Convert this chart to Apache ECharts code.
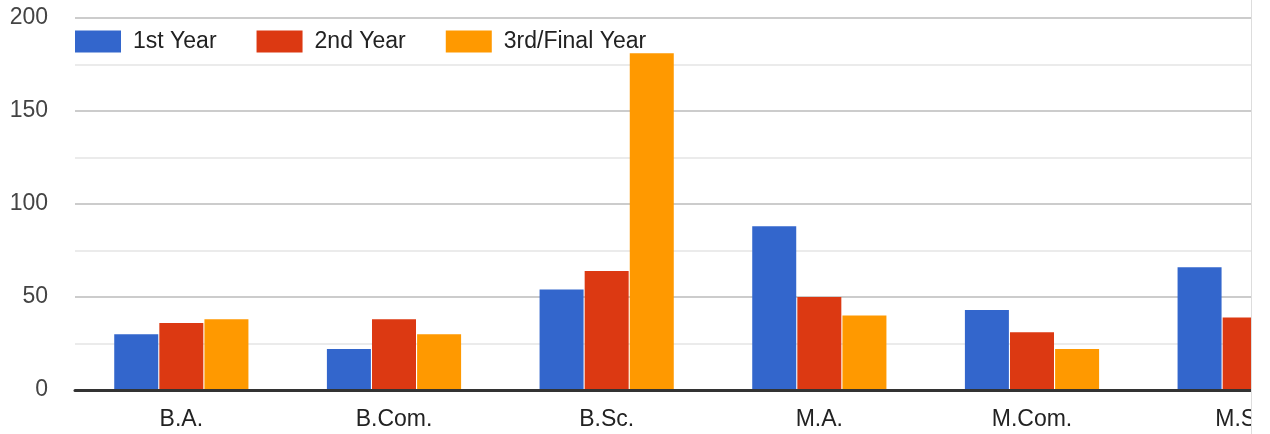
<!DOCTYPE html>
<html>
<head>
<meta charset="utf-8">
<script src="https://cdn.jsdelivr.net/npm/echarts@6/dist/echarts.min.js"></script>
<style>
  html, body { margin: 0; padding: 0; background: #fff; }
  .frame { width: 1251px; height: 434px; overflow: hidden; border-right: 1px solid #dddddd; }
  .chart { width: 1360px; height: 434px; }
</style>
</head>
<body>
<div class="frame"><div class="chart" id="main"></div></div>
<script>
const courses = ['B.A.', 'B.Com.', 'B.Sc.', 'M.A.', 'M.Com.', 'M.Sc.']
const firstYear = [30, 22, 54, 88, 43, 66]
const secondYear = [36, 38, 64, 50, 31, 39]
// last M.Sc. bar is cut off in the picture
const finalYear = [38, 30, 181, 40, 22, null]
const seriesNames = ['1st Year', '2nd Year', '3rd/Final Year']
const colors = ['#3366cc', '#dc3912', '#ff9900']

const myChart = echarts.init(document.getElementById('main'))

const bar = (name, data, color) => ({
  name: name,
  type: 'bar',
  data: data,
  barWidth: 44,
  barGap: '2.5%',
  itemStyle: { color: color },
})

const option = {
  animation: false,
  textStyle: { fontFamily: 'Liberation Sans, Arial, sans-serif' },
  legend: {
    left: 75,
    top: 30,
    padding: 0,
    icon: 'rect',
    itemWidth: 46,
    itemHeight: 22,
    itemGap: 40,
    textStyle: { fontSize: 23, color: '#222', padding: [0, 0, 0, 7] },
    data: seriesNames,
  },
  grid: { left: 75, top: 18, width: 1276, height: 372 },
  xAxis: {
    type: 'category',
    data: courses,
    z: 5,
    axisTick: { show: false },
    axisLine: { lineStyle: { color: '#333', width: 3 } },
    axisLabel: { fontSize: 23, color: '#222', margin: 18 },
  },
  yAxis: {
    type: 'value',
    min: 0,
    max: 200,
    interval: 50,
    axisLine: { show: false },
    axisTick: { show: false },
    axisLabel: { fontSize: 23, color: '#444', margin: 27 },
    splitLine: { lineStyle: { color: '#cccccc', width: 2 } },
    minorTick: { show: false, splitNumber: 2 },
    minorSplitLine: { show: true, lineStyle: { color: '#ebebeb', width: 2 } },
  },
  series: [
    bar(seriesNames[0], firstYear, colors[0]),
    bar(seriesNames[1], secondYear, colors[1]),
    bar(seriesNames[2], finalYear, colors[2]),
  ],
}
myChart.setOption(option)
</script>
</body>
</html>
